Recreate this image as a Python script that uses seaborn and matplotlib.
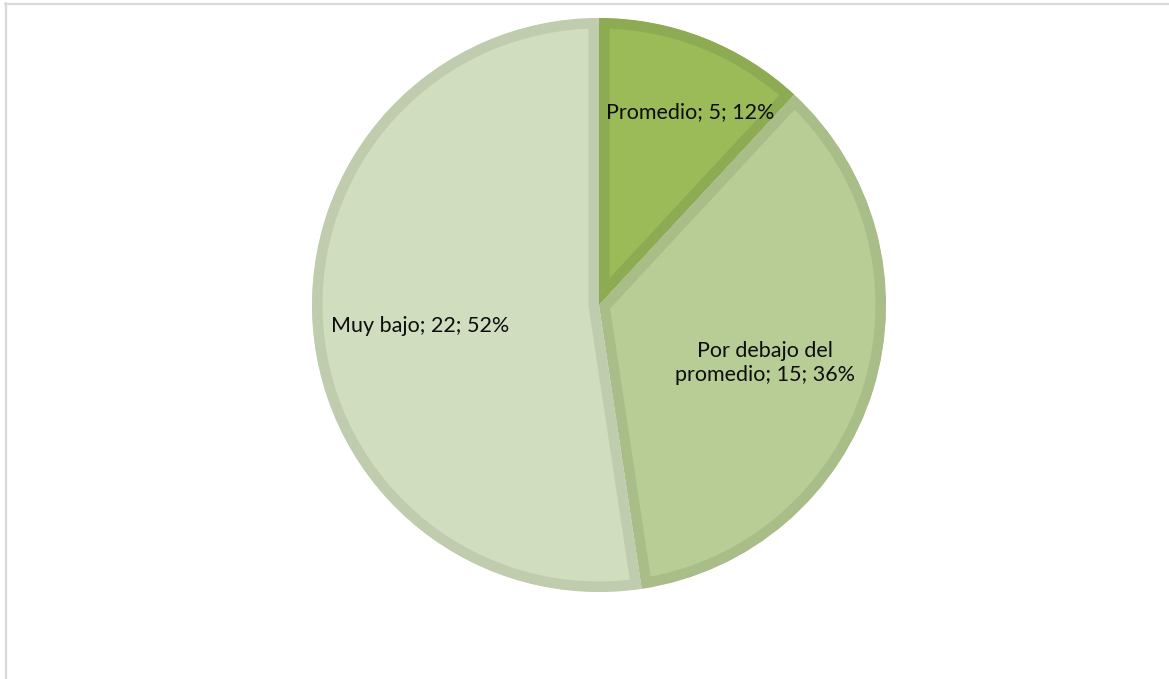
import numpy as np
import matplotlib
matplotlib.use("Agg")
import matplotlib.pyplot as plt
from matplotlib.lines import Line2D
import seaborn as sns

categories = ["Promedio", "Por debajo del promedio", "Muy bajo"]
counts = [5, 15, 22]
percents = [12, 36, 52]
label_texts = ["Promedio; 5; 12%", "Por debajo del\npromedio; 15; 36%", "Muy bajo; 22; 52%"]

fill_colors = ["#9BBB59", "#B8CD95", "#D0DDBE"]
edge_colors = ["#8DAB52", "#A9BD88", "#BFCCAE"]
label_radius = [0.755, 0.61, 0.625]
label_turn = [-3.4, -1.0, 1.2]  # degrees, nudges each label along the arc

sns.set_theme(style="white")
plt.rcParams["font.family"] = ["Lato", "DejaVu Sans"]

W, H, DPI = 1169, 679, 100
fig = plt.figure(figsize=(W / DPI, H / DPI), dpi=DPI)
ax = fig.add_axes([0, 0, 1, 1])

cx, cy, r = 599, 305, 287  # pie centre (px from top-left) and radius (px)

edge_px = 10.5
wedges, _ = ax.pie(counts, colors=fill_colors, startangle=90, counterclock=False,
                   radius=1.0, center=(0, 0), frame=True,
                   wedgeprops=dict(linewidth=2 * edge_px * 72 / DPI))
ax.set_xlim(-cx / r, (W - cx) / r)
ax.set_ylim(-(H - cy) / r, cy / r)
ax.set_axis_off()

for w, ec, txt, lr, turn in zip(wedges, edge_colors, label_texts, label_radius, label_turn):
    w.set_edgecolor(ec)
    # keep only the inner half of the outline so each slice gets an inset border
    w.set_clip_on(True)
    w.set_clip_path(w)
    mid = np.deg2rad((w.theta1 + w.theta2) / 2 + turn)
    ax.text(lr * np.cos(mid), lr * np.sin(mid) - 0.012, txt, ha="center", va="center",
            fontsize=15.5, color="#0d0d0d", linespacing=1.3)

# light outline of the chart area
fig.add_artist(Line2D([5 / W, 1.0], [1 - 3.5 / H, 1 - 3.5 / H], transform=fig.transFigure,
                      color="#D9D9D9", lw=1.6))
fig.add_artist(Line2D([5.5 / W, 5.5 / W], [0, 1 - 3 / H], transform=fig.transFigure,
                      color="#D9D9D9", lw=1.6))

fig.savefig("out.png", dpi=DPI, facecolor="white")
